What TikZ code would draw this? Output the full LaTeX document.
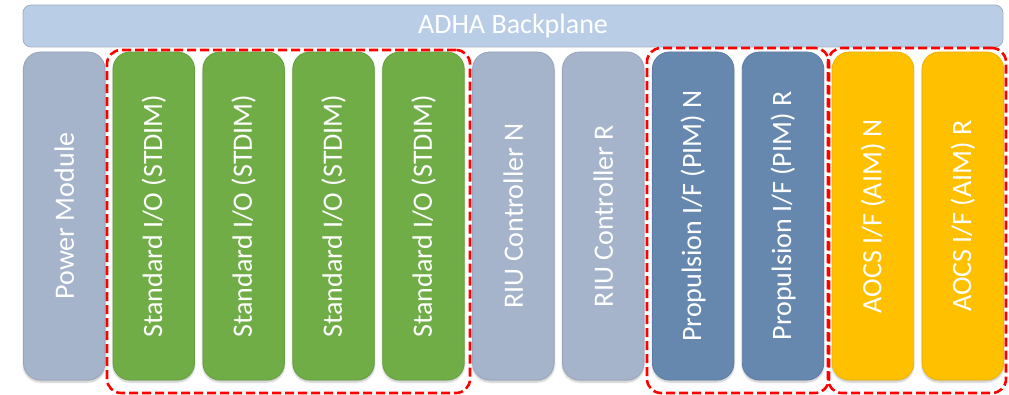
\documentclass[tikz,border=0pt]{standalone}
\usepackage{fontspec}
\setmainfont{Carlito}
\usetikzlibrary{fit,shadows.blur}
\definecolor{bpfill}{HTML}{BACDE6}
\definecolor{bpdraw}{HTML}{A3AFC2}
\definecolor{grayfill}{HTML}{A5B4CA}
\definecolor{graydraw}{HTML}{97A5BB}
\definecolor{greenfill}{HTML}{70AD47}
\definecolor{greendraw}{HTML}{64A03E}
\definecolor{bluefill}{HTML}{6688AF}
\definecolor{bluedraw}{HTML}{5A7DA5}
\definecolor{orangefill}{HTML}{FFC000}
\definecolor{orangedraw}{HTML}{F0B400}
\definecolor{dashred}{HTML}{FF0000}
\tikzset{
  card/.style={rotate=90, rounded corners=17pt, minimum width=328pt, minimum height=81.5pt,
    inner sep=0pt, text=white, font=\fontsize{28}{30}\selectfont, line width=0.8pt,
    blur shadow={shadow xshift=0pt, shadow yshift=-2pt, shadow blur steps=6, shadow opacity=25}},
  graycard/.style={card, fill=grayfill, draw=graydraw},
  greencard/.style={card, fill=greenfill, draw=greendraw},
  bluecard/.style={card, fill=bluefill, draw=bluedraw},
  orangecard/.style={card, fill=orangefill, draw=orangedraw},
  grp/.style={draw=dashred, line width=2.6pt, dash pattern=on 9pt off 4pt, rounded corners=14pt, inner sep=0pt},
}
\begin{document}
\begin{tikzpicture}[x=1pt,y=-1pt]
\useasboundingbox (0,0) rectangle (1009,395);
\node[fill=bpfill, draw=bpdraw, line width=0.8pt, rounded corners=8pt, minimum width=980pt, minimum height=42pt,
  inner sep=0pt, text=white, font=\fontsize{28}{30}\selectfont] (bp) at (513,26) {ADHA Backplane};
\node[graycard] (pm) at (64.25,216) {Power Module};
\node[greencard] (s1) at (153.75,216) {Standard I/O (STDIM)};
\node[greencard] (s2) at (243.65,216) {Standard I/O (STDIM)};
\node[greencard] (s3) at (333.55,216) {Standard I/O (STDIM)};
\node[greencard] (s4) at (423.45,216) {Standard I/O (STDIM)};
\node[graycard] (rn) at (513.35,216) {RIU Controller N};
\node[graycard] (rr) at (603.25,216) {RIU Controller R};
\node[bluecard] (pn) at (693.15,216) {Propulsion I/F (PIM) N};
\node[bluecard] (pr) at (783.05,216) {Propulsion I/F (PIM) R};
\node[orangecard] (an) at (872.95,216) {AOCS I/F (AIM) N};
\node[orangecard] (ar) at (962.85,216) {AOCS I/F (AIM) R};
\node[grp, fit={(107,50) (470,393)}] (gs) {};
\node[grp, fit={(647,48) (829,393)}] (gp) {};
\node[grp, fit={(828,48) (1006,393)}] (ga) {};
\end{tikzpicture}
\end{document}
